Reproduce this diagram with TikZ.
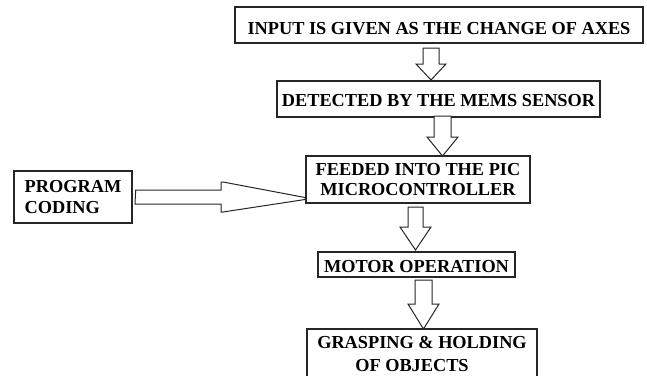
\documentclass[tikz,border=0pt]{standalone}
\usepackage{fontspec}
\setmainfont{Liberation Serif}
\begin{document}
\begin{tikzpicture}[x=1pt,y=-1pt,
  box/.style={draw=black!85, line width=1.3pt, inner sep=0pt, fill=white,
    font=\bfseries\fontsize{18.3}{20.5}\selectfont, text=black},
  blockarrow/.style={draw=black!85, line width=1pt, fill=white, line join=miter}]
\useasboundingbox (0,0) rectangle (647,375);
\clip (0,0) rectangle (647,375);
% boxes
\node[box, minimum width=408pt, minimum height=36pt, text height=18.6pt, text depth=0pt] (b1) at (439,25) {INPUT IS GIVEN AS THE CHANGE OF AXES};
\node[box, minimum width=323pt, minimum height=36pt, text height=14pt, text depth=0pt] (b2) at (438.5,99) {DETECTED BY THE MEMS SENSOR};
\node[box, minimum width=224pt, minimum height=47pt, align=center] (b3) at (418,179.5) {FEEDED INTO THE PIC\\MICROCONTROLLER};
\node[box, minimum width=197pt, minimum height=25pt, text height=15pt, text depth=0pt] (b4) at (416.5,264.5) {MOTOR OPERATION};
\node[box, minimum width=230pt, minimum height=49pt, align=left, font=\bfseries\fontsize{18.3}{23}\selectfont] (b5) at (422,353.5) {GRASPING \& HOLDING\\\hspace*{38pt}OF OBJECTS};
\node[box, minimum width=118pt, minimum height=52pt, align=left] (prg) at (73,197) {PROGRAM\\CODING};
% block arrows (down)
\draw[blockarrow] (423,48) -- (439,48) -- (439,64) -- (446,64) -- (431,80) -- (416,64) -- (423,64) -- cycle;
\draw[blockarrow] (434,116) -- (451,116) -- (451,137) -- (458,137) -- (442.5,156) -- (427,137) -- (434,137) -- cycle;
\draw[blockarrow] (408,207) -- (423,207) -- (423,227) -- (431,227) -- (415.5,250) -- (400,227) -- (408,227) -- cycle;
\draw[blockarrow] (415,280) -- (432,280) -- (432,304) -- (439,304) -- (423.5,329) -- (408,304) -- (415,304) -- cycle;
% block arrow (right) from program coding into the PIC box
\draw[blockarrow] (prg.east) ++(3,-7) coordinate (ra) -- (221,190) -- (221,182) -- (223,182) -- (305,197.5) -- (305,199.5) -- (223,212) -- (221,212) -- (221,204) -- (135,204) -- cycle;
\end{tikzpicture}
\end{document}
